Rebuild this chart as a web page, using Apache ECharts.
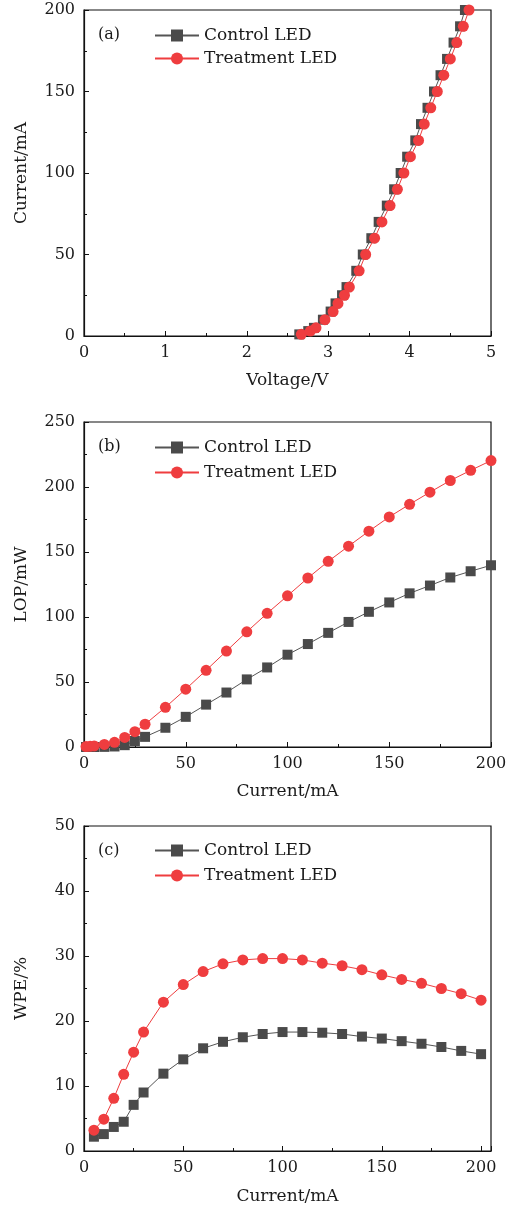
<!DOCTYPE html>
<html>
<head>
<meta charset="utf-8">
<script src="https://cdn.jsdelivr.net/npm/echarts@6/dist/echarts.min.js"></script>
<style>
html,body{margin:0;padding:0;background:#fff;}
#chart{width:513px;height:1206px;}
</style>
</head>
<body>
<div id="chart"></div>
<script>
// Panel (a): I-V
var ivCurrent = [1, 3, 5, 10, 15, 20, 25, 30, 40, 50, 60, 70, 80, 90, 100, 110, 120, 130, 140, 150, 160, 170, 180, 190, 200];
var ivVoltControl = [2.645, 2.755, 2.825, 2.935, 3.03, 3.09, 3.17, 3.225, 3.345, 3.425, 3.53, 3.62, 3.72, 3.81, 3.89, 3.97, 4.07, 4.14, 4.22, 4.30, 4.38, 4.46, 4.54, 4.62, 4.68];
var ivVoltTreat = [2.67, 2.78, 2.85, 2.96, 3.06, 3.12, 3.20, 3.26, 3.38, 3.46, 3.57, 3.66, 3.76, 3.85, 3.93, 4.01, 4.11, 4.18, 4.26, 4.34, 4.42, 4.50, 4.58, 4.66, 4.73];
// Panel (b): LOP
var lopCurrent = [1, 3, 5, 10, 15, 20, 25, 30, 40, 50, 60, 70, 80, 90, 100, 110, 120, 130, 140, 150, 160, 170, 180, 190, 200];
var lopControl = [0, 0, 0, 0.1, 0.4, 1.4, 4.6, 7.8, 14.8, 23.2, 32.6, 41.9, 52, 61.2, 71, 79.2, 87.8, 96.2, 104, 111.2, 118.2, 124.2, 130.4, 135.2, 139.8];
var lopTreat = [0.3, 0.5, 0.8, 2, 3.6, 7.4, 11.8, 17.5, 30.5, 44.5, 59, 73.8, 88.6, 102.8, 116.3, 130, 142.8, 154.5, 166, 177, 186.7, 196, 205, 212.8, 220.3];
// Panel (c): WPE
var wpeCurrent = [5, 10, 15, 20, 25, 30, 40, 50, 60, 70, 80, 90, 100, 110, 120, 130, 140, 150, 160, 170, 180, 190, 200];
var wpeControl = [2.2, 2.6, 3.7, 4.5, 7.1, 9.0, 11.9, 14.1, 15.8, 16.8, 17.5, 18.0, 18.3, 18.3, 18.2, 18.0, 17.6, 17.3, 16.9, 16.5, 16.0, 15.4, 14.9];
var wpeTreat = [3.2, 4.9, 8.1, 11.8, 15.2, 18.3, 22.9, 25.6, 27.6, 28.8, 29.4, 29.6, 29.6, 29.4, 28.9, 28.5, 27.9, 27.1, 26.4, 25.8, 25.0, 24.2, 23.2];

var seriesNames = ['Control LED', 'Treatment LED'];
var panelLabels = ['(a)', '(b)', '(c)'];
var xNames = ['Voltage/V', 'Current/mA', 'Current/mA'];
var yNames = ['Current/mA', 'LOP/mW', 'WPE/%'];

var FONT = 'DejaVu Serif';
var TXT = '#1a1a1a';
var GRAY = '#4a4a4a';
var RED = '#ef3d3f';

function pairs(xs, ys) { return xs.map(function (x, i) { return [x, ys[i]]; }); }

var grids = [
  { left: 84, right: 22, top: 10, height: 326 },
  { left: 84, right: 22, top: 422, height: 325 },
  { left: 84, right: 22, top: 826, height: 326 }
];
grids.forEach(function (g) { g.show = true; g.borderColor = '#111'; g.borderWidth = 1.2; g.backgroundColor = 'transparent'; });

function axisBase(extra) {
  var a = {
    axisLine: { show: true, onZero: false, lineStyle: { color: '#111', width: 1.2 } },
    axisTick: { show: true, inside: true, length: 5, lineStyle: { color: '#111', width: 1 } },
    minorTick: { show: true, splitNumber: 2, length: 3, lineStyle: { color: '#111', width: 1 } },
    splitLine: { show: false },
    axisLabel: { color: TXT, fontFamily: FONT, fontSize: 16 },
    nameLocation: 'middle',
    nameTextStyle: { color: TXT, fontFamily: FONT, fontSize: 17 }
  };
  for (var k in extra) a[k] = extra[k];
  return a;
}

var xAxes = [
  axisBase({ type: 'value', gridIndex: 0, min: 0, max: 5, interval: 1, name: xNames[0], nameGap: 36 }),
  axisBase({ type: 'value', gridIndex: 1, min: 0, max: 200, interval: 50, name: xNames[1], nameGap: 36 }),
  axisBase({ type: 'value', gridIndex: 2, min: 0, max: 205, interval: 50, name: xNames[2], nameGap: 37 })
];
xAxes.forEach(function (a) { a.axisLabel.margin = 9; });
xAxes[2].axisLabel.showMaxLabel = false;

var yAxes = [
  axisBase({ type: 'value', gridIndex: 0, min: 0, max: 200, interval: 50, name: yNames[0], nameGap: 54 }),
  axisBase({ type: 'value', gridIndex: 1, min: 0, max: 250, interval: 50, name: yNames[1], nameGap: 54 }),
  axisBase({ type: 'value', gridIndex: 2, min: 0, max: 50, interval: 10, name: yNames[2], nameGap: 54 })
];
yAxes.forEach(function (a) { a.axisLabel.margin = 9; });

function mkSeries(name, data, idx, isRed) {
  return {
    name: name, type: 'line', xAxisIndex: idx, yAxisIndex: idx,
    data: data,
    symbol: isRed ? 'circle' : 'rect',
    symbolSize: isRed ? 11 : 10,
    showSymbol: true,
    animation: false,
    lineStyle: { color: isRed ? RED : '#555', width: 1 },
    itemStyle: { color: isRed ? RED : GRAY, borderWidth: 0 },
    z: isRed ? 3 : 2
  };
}

var series = [
  mkSeries(seriesNames[0], pairs(ivVoltControl, ivCurrent), 0, false),
  mkSeries(seriesNames[1], pairs(ivVoltTreat, ivCurrent), 0, true),
  mkSeries(seriesNames[0], pairs(lopCurrent, lopControl), 1, false),
  mkSeries(seriesNames[1], pairs(lopCurrent, lopTreat), 1, true),
  mkSeries(seriesNames[0], pairs(wpeCurrent, wpeControl), 2, false),
  mkSeries(seriesNames[1], pairs(wpeCurrent, wpeTreat), 2, true)
];

var legendTops = [22, 434, 837];
var legendGaps = [6, 8, 8];
var legends = legendTops.map(function (t, i) {
  return {
    data: seriesNames, orient: 'vertical', left: 149, top: t,
    itemWidth: 44, itemHeight: 15, itemGap: legendGaps[i],
    selectedMode: false,
    textStyle: { color: TXT, fontFamily: FONT, fontSize: 17 }
  };
});

var titleTops = [22, 434, 838];
var titles = titleTops.map(function (t, i) {
  return { text: panelLabels[i], left: 93, top: t, textStyle: { color: TXT, fontFamily: FONT, fontSize: 16, fontWeight: 'normal' } };
});

var chart = echarts.init(document.getElementById('chart'), null, { renderer: 'canvas' });
chart.setOption({
  backgroundColor: '#fff',
  animation: false,
  title: titles,
  legend: legends,
  grid: grids,
  xAxis: xAxes,
  yAxis: yAxes,
  series: series
});
</script>
</body>
</html>
